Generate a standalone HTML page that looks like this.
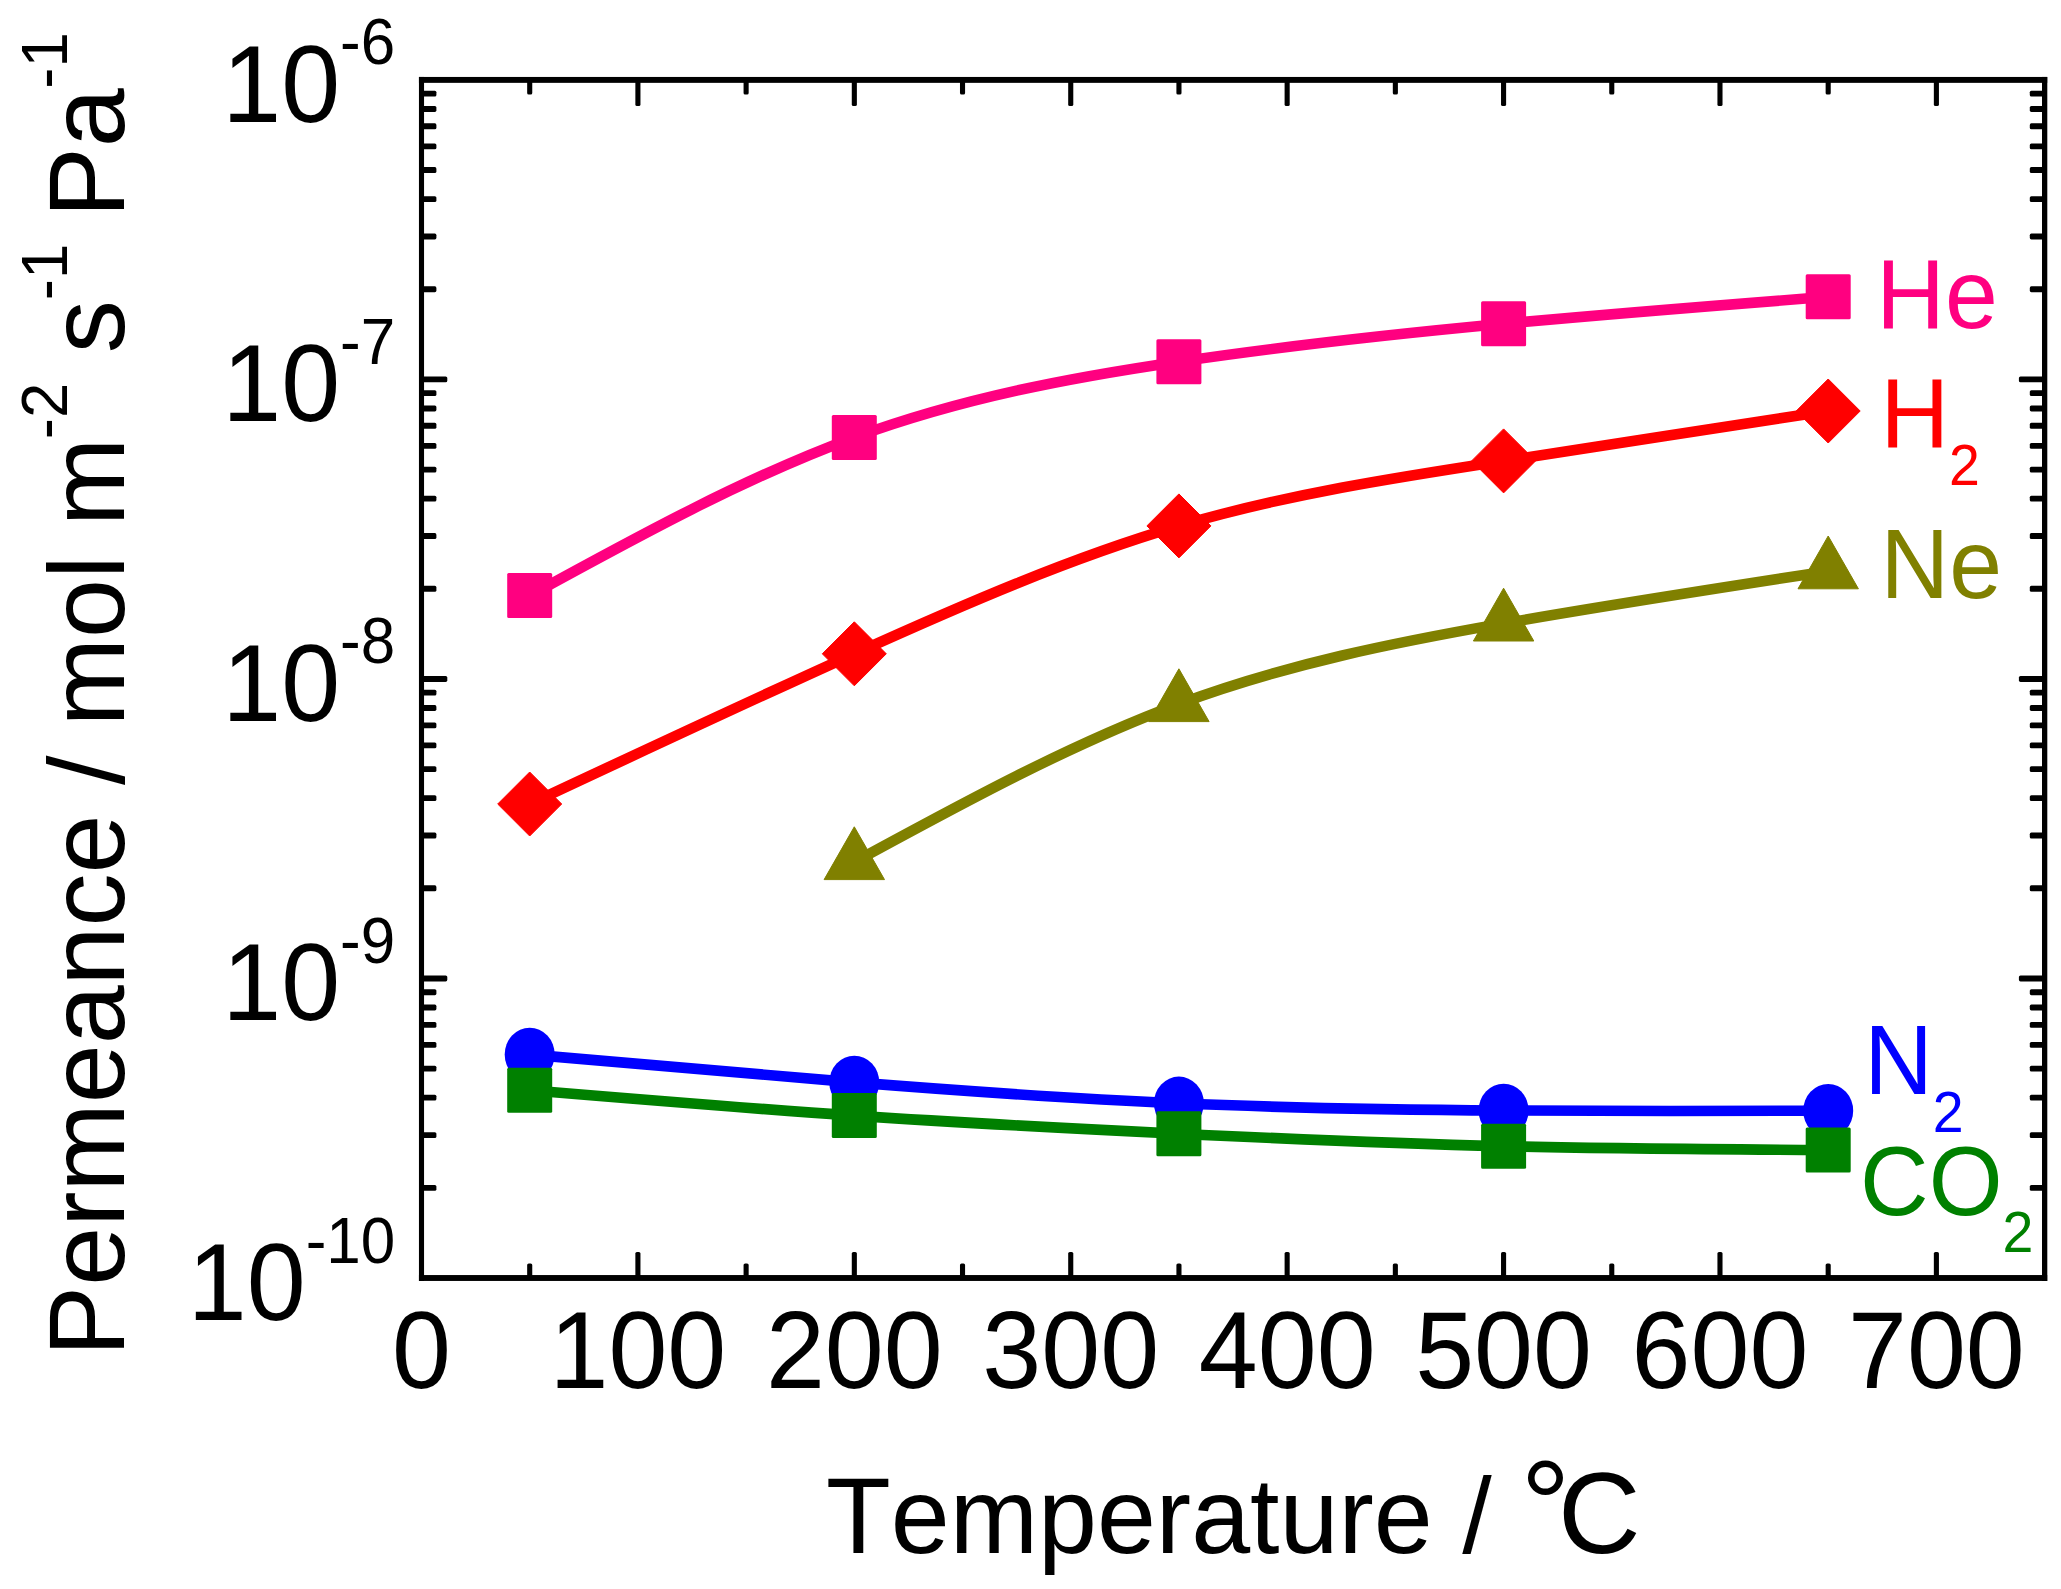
<!DOCTYPE html>
<html lang="en"><head><meta charset="utf-8"><title>Permeance vs Temperature</title>
<style>html,body{margin:0;padding:0;background:#fff}svg{display:block}text{font-kerning:none;font-variant-ligatures:none}</style></head>
<body>
<svg width="2061" height="1589" viewBox="0 0 2061 1589" font-family="'Liberation Sans', Arial, Helvetica, sans-serif">
<rect x="0" y="0" width="2061" height="1589" fill="#ffffff"/>
<g id="he" fill="#ff0080">
<path d="M529.7 595.6 C637.9 536.3 746.1 477.1 854.3 437.4 C962.5 397.7 1070.7 377.6 1178.9 361.7 C1287.2 345.8 1395.4 333.9 1503.6 323.8 C1611.8 313.7 1720.0 305.2 1828.2 296.8" fill="none" stroke="#ff0080" stroke-width="10.6"/>
<rect x="507.2" y="573.1" width="45" height="45" rx="1.5"/>
<rect x="831.8" y="414.9" width="45" height="45" rx="1.5"/>
<rect x="1156.4" y="339.2" width="45" height="45" rx="1.5"/>
<rect x="1481.1" y="301.3" width="45" height="45" rx="1.5"/>
<rect x="1805.7" y="274.3" width="45" height="45" rx="1.5"/>
</g>
<g id="h2" fill="#ff0000">
<path d="M529.7 804.0 C637.9 753.3 746.1 702.7 854.3 653.8 C962.5 604.9 1070.7 557.8 1178.9 525.9 C1287.2 494.1 1395.4 477.5 1503.6 460.9 C1611.8 444.3 1720.0 427.6 1828.2 411.0" fill="none" stroke="#ff0000" stroke-width="10.6"/>
<path d="M529.7 772.0L561.7 804.0L529.7 836.0L497.7 804.0Z" stroke="#ff0000" stroke-width="1" stroke-linejoin="round"/>
<path d="M854.3 621.8L886.3 653.8L854.3 685.8L822.3 653.8Z" stroke="#ff0000" stroke-width="1" stroke-linejoin="round"/>
<path d="M1178.9 493.9L1210.9 525.9L1178.9 557.9L1146.9 525.9Z" stroke="#ff0000" stroke-width="1" stroke-linejoin="round"/>
<path d="M1503.6 428.9L1535.6 460.9L1503.6 492.9L1471.6 460.9Z" stroke="#ff0000" stroke-width="1" stroke-linejoin="round"/>
<path d="M1828.2 379.0L1860.2 411.0L1828.2 443.0L1796.2 411.0Z" stroke="#ff0000" stroke-width="1" stroke-linejoin="round"/>
</g>
<g id="ne" fill="#808000">
<path d="M854.3 862.0 C962.5 803.1 1070.7 744.2 1178.9 704.0 C1287.2 663.8 1395.4 642.4 1503.6 623.4 C1611.8 604.4 1720.0 587.8 1828.2 571.2" fill="none" stroke="#808000" stroke-width="10.6"/>
<path d="M854.3 826.8L884.5 879.6L824.1 879.6Z" stroke="#808000" stroke-width="1" stroke-linejoin="round"/>
<path d="M1178.9 668.8L1209.1 721.6L1148.7 721.6Z" stroke="#808000" stroke-width="1" stroke-linejoin="round"/>
<path d="M1503.6 588.2L1533.8 641.0L1473.4 641.0Z" stroke="#808000" stroke-width="1" stroke-linejoin="round"/>
<path d="M1828.2 536.0L1858.4 588.8L1798.0 588.8Z" stroke="#808000" stroke-width="1" stroke-linejoin="round"/>
</g>
<g id="n2" fill="#0000ff">
<path d="M529.7 1054.5 C637.9 1064.1 746.1 1073.8 854.3 1082.4 C962.5 1091.0 1070.7 1098.6 1178.9 1103.3 C1287.2 1108.0 1395.4 1109.8 1503.6 1110.5 C1611.8 1111.2 1720.0 1111.0 1828.2 1110.7" fill="none" stroke="#0000ff" stroke-width="10.6"/>
<ellipse cx="529.7" cy="1054.5" rx="25" ry="26.7"/>
<ellipse cx="854.3" cy="1082.4" rx="25" ry="26.7"/>
<ellipse cx="1178.9" cy="1103.3" rx="25" ry="26.7"/>
<ellipse cx="1503.6" cy="1110.5" rx="25" ry="26.7"/>
<ellipse cx="1828.2" cy="1110.7" rx="25" ry="26.7"/>
</g>
<g id="co2" fill="#008000">
<path d="M529.7 1090.3 C637.9 1099.3 746.1 1108.3 854.3 1115.6 C962.5 1122.9 1070.7 1128.5 1178.9 1133.7 C1287.2 1138.9 1395.4 1143.6 1503.6 1146.2 C1611.8 1148.8 1720.0 1149.4 1828.2 1150.0" fill="none" stroke="#008000" stroke-width="10.6"/>
<rect x="507.2" y="1067.8" width="45" height="45" rx="1.5"/>
<rect x="831.8" y="1093.1" width="45" height="45" rx="1.5"/>
<rect x="1156.4" y="1111.2" width="45" height="45" rx="1.5"/>
<rect x="1481.1" y="1123.7" width="45" height="45" rx="1.5"/>
<rect x="1805.7" y="1127.5" width="45" height="45" rx="1.5"/>
</g>
<g id="axes" fill="#000">
<rect x="527.16" y="1263.4" width="5.1" height="14.6" rx="1.6"/><rect x="527.16" y="79.9" width="5.1" height="14.6" rx="1.6"/>
<rect x="635.36" y="1251.9" width="5.1" height="26.1" rx="1.6"/><rect x="635.36" y="79.9" width="5.1" height="26.1" rx="1.6"/>
<rect x="743.57" y="1263.4" width="5.1" height="14.6" rx="1.6"/><rect x="743.57" y="79.9" width="5.1" height="14.6" rx="1.6"/>
<rect x="851.78" y="1251.9" width="5.1" height="26.1" rx="1.6"/><rect x="851.78" y="79.9" width="5.1" height="26.1" rx="1.6"/>
<rect x="959.98" y="1263.4" width="5.1" height="14.6" rx="1.6"/><rect x="959.98" y="79.9" width="5.1" height="14.6" rx="1.6"/>
<rect x="1068.19" y="1251.9" width="5.1" height="26.1" rx="1.6"/><rect x="1068.19" y="79.9" width="5.1" height="26.1" rx="1.6"/>
<rect x="1176.40" y="1263.4" width="5.1" height="14.6" rx="1.6"/><rect x="1176.40" y="79.9" width="5.1" height="14.6" rx="1.6"/>
<rect x="1284.60" y="1251.9" width="5.1" height="26.1" rx="1.6"/><rect x="1284.60" y="79.9" width="5.1" height="26.1" rx="1.6"/>
<rect x="1392.81" y="1263.4" width="5.1" height="14.6" rx="1.6"/><rect x="1392.81" y="79.9" width="5.1" height="14.6" rx="1.6"/>
<rect x="1501.02" y="1251.9" width="5.1" height="26.1" rx="1.6"/><rect x="1501.02" y="79.9" width="5.1" height="26.1" rx="1.6"/>
<rect x="1609.22" y="1263.4" width="5.1" height="14.6" rx="1.6"/><rect x="1609.22" y="79.9" width="5.1" height="14.6" rx="1.6"/>
<rect x="1717.43" y="1251.9" width="5.1" height="26.1" rx="1.6"/><rect x="1717.43" y="79.9" width="5.1" height="26.1" rx="1.6"/>
<rect x="1825.64" y="1263.4" width="5.1" height="14.6" rx="1.6"/><rect x="1825.64" y="79.9" width="5.1" height="14.6" rx="1.6"/>
<rect x="1933.84" y="1251.9" width="5.1" height="26.1" rx="1.6"/><rect x="1933.84" y="79.9" width="5.1" height="26.1" rx="1.6"/>
<rect x="421.5" y="1184.88" width="14.9" height="5.9" rx="1.6"/><rect x="2029.8" y="1184.88" width="14.9" height="5.9" rx="1.6"/>
<rect x="421.5" y="1132.14" width="14.9" height="5.9" rx="1.6"/><rect x="2029.8" y="1132.14" width="14.9" height="5.9" rx="1.6"/>
<rect x="421.5" y="1094.72" width="14.9" height="5.9" rx="1.6"/><rect x="2029.8" y="1094.72" width="14.9" height="5.9" rx="1.6"/>
<rect x="421.5" y="1065.69" width="14.9" height="5.9" rx="1.6"/><rect x="2029.8" y="1065.69" width="14.9" height="5.9" rx="1.6"/>
<rect x="421.5" y="1041.97" width="14.9" height="5.9" rx="1.6"/><rect x="2029.8" y="1041.97" width="14.9" height="5.9" rx="1.6"/>
<rect x="421.5" y="1021.92" width="14.9" height="5.9" rx="1.6"/><rect x="2029.8" y="1021.92" width="14.9" height="5.9" rx="1.6"/>
<rect x="421.5" y="1004.55" width="14.9" height="5.9" rx="1.6"/><rect x="2029.8" y="1004.55" width="14.9" height="5.9" rx="1.6"/>
<rect x="421.5" y="989.23" width="14.9" height="5.9" rx="1.6"/><rect x="2029.8" y="989.23" width="14.9" height="5.9" rx="1.6"/>
<rect x="421.5" y="975.52" width="25.8" height="5.9" rx="1.6"/><rect x="2018.9" y="975.52" width="25.8" height="5.9" rx="1.6"/>
<rect x="421.5" y="885.36" width="14.9" height="5.9" rx="1.6"/><rect x="2029.8" y="885.36" width="14.9" height="5.9" rx="1.6"/>
<rect x="421.5" y="832.62" width="14.9" height="5.9" rx="1.6"/><rect x="2029.8" y="832.62" width="14.9" height="5.9" rx="1.6"/>
<rect x="421.5" y="795.19" width="14.9" height="5.9" rx="1.6"/><rect x="2029.8" y="795.19" width="14.9" height="5.9" rx="1.6"/>
<rect x="421.5" y="766.17" width="14.9" height="5.9" rx="1.6"/><rect x="2029.8" y="766.17" width="14.9" height="5.9" rx="1.6"/>
<rect x="421.5" y="742.45" width="14.9" height="5.9" rx="1.6"/><rect x="2029.8" y="742.45" width="14.9" height="5.9" rx="1.6"/>
<rect x="421.5" y="722.40" width="14.9" height="5.9" rx="1.6"/><rect x="2029.8" y="722.40" width="14.9" height="5.9" rx="1.6"/>
<rect x="421.5" y="705.03" width="14.9" height="5.9" rx="1.6"/><rect x="2029.8" y="705.03" width="14.9" height="5.9" rx="1.6"/>
<rect x="421.5" y="689.71" width="14.9" height="5.9" rx="1.6"/><rect x="2029.8" y="689.71" width="14.9" height="5.9" rx="1.6"/>
<rect x="421.5" y="676.00" width="25.8" height="5.9" rx="1.6"/><rect x="2018.9" y="676.00" width="25.8" height="5.9" rx="1.6"/>
<rect x="421.5" y="585.83" width="14.9" height="5.9" rx="1.6"/><rect x="2029.8" y="585.83" width="14.9" height="5.9" rx="1.6"/>
<rect x="421.5" y="533.09" width="14.9" height="5.9" rx="1.6"/><rect x="2029.8" y="533.09" width="14.9" height="5.9" rx="1.6"/>
<rect x="421.5" y="495.67" width="14.9" height="5.9" rx="1.6"/><rect x="2029.8" y="495.67" width="14.9" height="5.9" rx="1.6"/>
<rect x="421.5" y="466.64" width="14.9" height="5.9" rx="1.6"/><rect x="2029.8" y="466.64" width="14.9" height="5.9" rx="1.6"/>
<rect x="421.5" y="442.92" width="14.9" height="5.9" rx="1.6"/><rect x="2029.8" y="442.92" width="14.9" height="5.9" rx="1.6"/>
<rect x="421.5" y="422.87" width="14.9" height="5.9" rx="1.6"/><rect x="2029.8" y="422.87" width="14.9" height="5.9" rx="1.6"/>
<rect x="421.5" y="405.50" width="14.9" height="5.9" rx="1.6"/><rect x="2029.8" y="405.50" width="14.9" height="5.9" rx="1.6"/>
<rect x="421.5" y="390.18" width="14.9" height="5.9" rx="1.6"/><rect x="2029.8" y="390.18" width="14.9" height="5.9" rx="1.6"/>
<rect x="421.5" y="376.47" width="25.8" height="5.9" rx="1.6"/><rect x="2018.9" y="376.47" width="25.8" height="5.9" rx="1.6"/>
<rect x="421.5" y="286.31" width="14.9" height="5.9" rx="1.6"/><rect x="2029.8" y="286.31" width="14.9" height="5.9" rx="1.6"/>
<rect x="421.5" y="233.57" width="14.9" height="5.9" rx="1.6"/><rect x="2029.8" y="233.57" width="14.9" height="5.9" rx="1.6"/>
<rect x="421.5" y="196.14" width="14.9" height="5.9" rx="1.6"/><rect x="2029.8" y="196.14" width="14.9" height="5.9" rx="1.6"/>
<rect x="421.5" y="167.12" width="14.9" height="5.9" rx="1.6"/><rect x="2029.8" y="167.12" width="14.9" height="5.9" rx="1.6"/>
<rect x="421.5" y="143.40" width="14.9" height="5.9" rx="1.6"/><rect x="2029.8" y="143.40" width="14.9" height="5.9" rx="1.6"/>
<rect x="421.5" y="123.35" width="14.9" height="5.9" rx="1.6"/><rect x="2029.8" y="123.35" width="14.9" height="5.9" rx="1.6"/>
<rect x="421.5" y="105.98" width="14.9" height="5.9" rx="1.6"/><rect x="2029.8" y="105.98" width="14.9" height="5.9" rx="1.6"/>
<rect x="421.5" y="90.66" width="14.9" height="5.9" rx="1.6"/><rect x="2029.8" y="90.66" width="14.9" height="5.9" rx="1.6"/>
<rect x="418.95" y="76.95" width="5.1" height="1204.00"/>
<rect x="2042.00" y="76.95" width="5.3" height="1204.00"/>
<rect x="418.95" y="76.95" width="1628.25" height="5.9"/>
<rect x="418.95" y="1275.05" width="1628.25" height="5.9"/>
</g>
<g id="xticklabels" font-size="106" text-anchor="middle" fill="#000">
<text transform="translate(421.5 1388) scale(1 1.035)">0</text>
<text transform="translate(637.9 1388) scale(1 1.035)">100</text>
<text transform="translate(854.3 1388) scale(1 1.035)">200</text>
<text transform="translate(1070.7 1388) scale(1 1.035)">300</text>
<text transform="translate(1287.2 1388) scale(1 1.035)">400</text>
<text transform="translate(1503.6 1388) scale(1 1.035)">500</text>
<text transform="translate(1720.0 1388) scale(1 1.035)">600</text>
<text transform="translate(1936.4 1388) scale(1 1.035)">700</text>
</g>
<g id="yticklabels" font-size="106" fill="#000">
<text transform="translate(187.8 1319.9) scale(1 1.035)">10<tspan font-size="62" dy="-55.4">-10</tspan></text>
<text transform="translate(222.2 1020.4) scale(1 1.035)">10<tspan font-size="62" dy="-55.4">-9</tspan></text>
<text transform="translate(222.2 720.8) scale(1 1.035)">10<tspan font-size="62" dy="-55.4">-8</tspan></text>
<text transform="translate(222.2 421.3) scale(1 1.035)">10<tspan font-size="62" dy="-55.4">-7</tspan></text>
<text transform="translate(222.2 121.8) scale(1 1.035)">10<tspan font-size="62" dy="-55.4">-6</tspan></text>
</g>
<text id="xtitle" transform="translate(0 1552.8) scale(1 1.012)" x="826" font-size="106" fill="#000">Temperature / </text>
<text id="xunit" x="1520.5" y="1547" font-size="125" fill="#000">°<tspan x="1558.1" y="1552.9" font-size="114.4">C</tspan></text>
<text id="ytitle" transform="translate(124.3 1356.5) rotate(-90) scale(1 1.012)" font-size="106" fill="#000">Permeance / mol m<tspan font-size="63.5" dx="-1.5" dy="-56.6">-2</tspan><tspan dy="56.6"> s</tspan><tspan font-size="63.5" dy="-56.6">-1</tspan><tspan dy="56.6" dx="-3.5"> Pa</tspan><tspan font-size="63.5" dx="-0.5" dy="-56.6">-1</tspan></text>
<g id="labels" font-size="95">
<text transform="translate(1876.3 327.7) scale(1 1.035)" fill="#ff0080">He</text>
<text transform="translate(1880.4 446.9) scale(1 1.035)" fill="#ff0000">H<tspan font-size="55.5" dy="36.7">2</tspan></text>
<text transform="translate(1880.6 597.9) scale(1 1.035)" fill="#808000">Ne</text>
<text transform="translate(1864.2 1094.1) scale(1 1.035)" fill="#0000ff">N<tspan font-size="55.5" dy="36.4">2</tspan></text>
<text transform="translate(1860.1 1215) scale(1 1.035)" fill="#008000">CO<tspan font-size="55.5" dy="35.6">2</tspan></text>
</g>
</svg>
</body></html>
